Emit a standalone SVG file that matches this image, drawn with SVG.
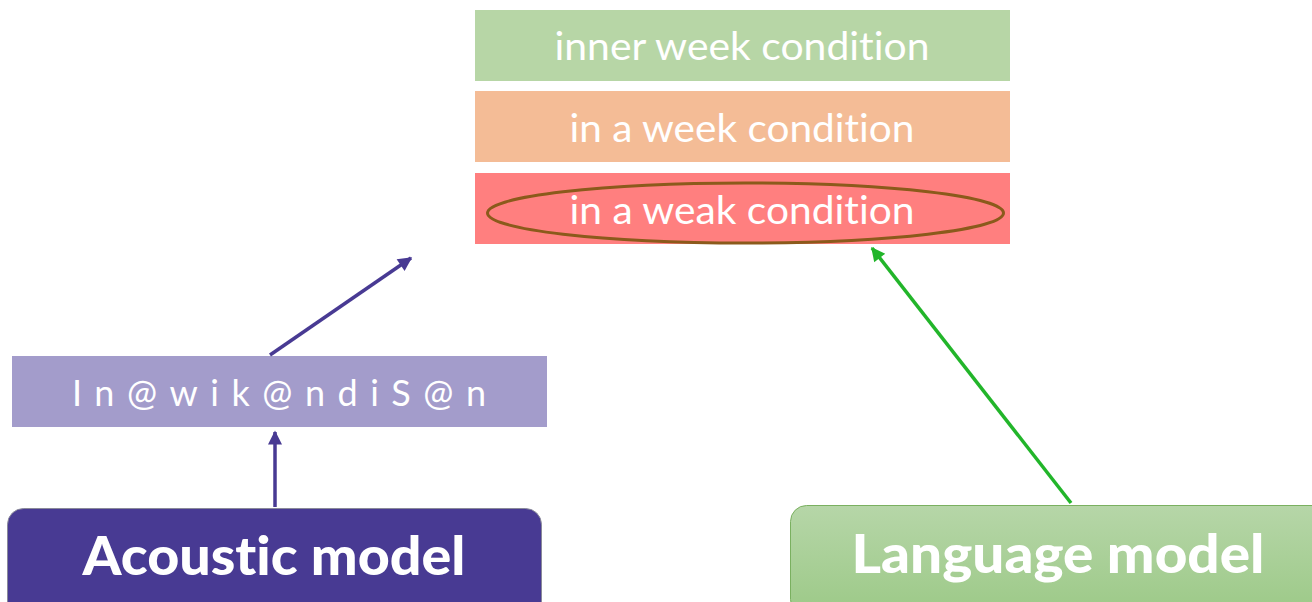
<svg xmlns="http://www.w3.org/2000/svg" width="1312" height="602" viewBox="0 0 1312 602">
  <defs>
    <style>
      .lbl { font-family: Lato, "Open Sans", "Liberation Sans", sans-serif; fill: #ffffff; text-anchor: middle; font-variant-ligatures: none; font-feature-settings: "liga" 0, "clig" 0; }
      .hyp { font-size: 38px; }
      .model { font-size: 54px; font-weight: 900; }
      .phon { font-size: 36px; }
      .edge { fill: none; stroke-width: 3.5; }
    </style>
    <linearGradient id="lmFill" x1="0" y1="0" x2="0" y2="1">
      <stop offset="0" stop-color="#b6d6a8"/>
      <stop offset="1" stop-color="#9cc987"/>
    </linearGradient>
    <marker id="headPurple" viewBox="0 0 10 10" refX="9" refY="5" markerWidth="4.5" markerHeight="4" orient="auto">
      <path d="M0,0 L10,5 L0,10 z" fill="#483a93"/>
    </marker>
    <marker id="headGreen" viewBox="0 0 10 10" refX="9" refY="5" markerWidth="4.5" markerHeight="4" orient="auto">
      <path d="M0,0 L10,5 L0,10 z" fill="#22b52a"/>
    </marker>
  </defs>

  <rect width="1312" height="602" fill="#ffffff"/>

  <!-- candidate transcriptions -->
  <g id="hyp1">
    <rect x="475" y="10" width="535" height="71" fill="#b7d6a6"/>
    <text class="lbl hyp" x="742" y="60" textLength="375" lengthAdjust="spacingAndGlyphs">inner week condition</text>
  </g>
  <g id="hyp2">
    <rect x="475" y="91" width="535" height="71" fill="#f4bc96"/>
    <text class="lbl hyp" x="742" y="142" textLength="345" lengthAdjust="spacingAndGlyphs">in a week condition</text>
  </g>
  <g id="hyp3">
    <rect x="475" y="173" width="535" height="71" fill="#ff7f7f"/>
    <text class="lbl hyp" x="742" y="224" textLength="345" lengthAdjust="spacingAndGlyphs">in a weak condition</text>
    <ellipse cx="745.5" cy="213" rx="258" ry="30" fill="none" stroke="#8b5a1b" stroke-width="3"/>
  </g>

  <!-- phoneme string -->
  <g id="phonemes">
    <rect x="12" y="356" width="535" height="71" fill="#a39ccb"/>
    <text class="lbl phon" x="279" y="406" textLength="414" lengthAdjust="spacing">In@wik@ndiS@n</text>
  </g>

  <!-- models -->
  <g id="acoustic">
    <rect x="7.5" y="508.5" width="534" height="110" rx="16" fill="#483a93" stroke="#8a8a9a" stroke-width="1"/>
    <text class="lbl model" x="274" y="575" textLength="383" lengthAdjust="spacingAndGlyphs">Acoustic model</text>
  </g>
  <g id="language">
    <rect x="790.5" y="505.5" width="540" height="110" rx="16" fill="url(#lmFill)" stroke="#7ab060" stroke-width="1"/>
    <text class="lbl model" x="1058" y="573" textLength="413" lengthAdjust="spacingAndGlyphs">Language model</text>
  </g>

  <!-- connectors -->
  <g id="connectors">
    <line class="edge" x1="275" y1="507" x2="275" y2="432" stroke="#483a93" marker-end="url(#headPurple)"/>
    <line class="edge" x1="270" y1="355" x2="411" y2="258" stroke="#483a93" marker-end="url(#headPurple)"/>
    <line class="edge" x1="1071" y1="503" x2="872" y2="248" stroke="#22b52a" marker-end="url(#headGreen)"/>
  </g>
</svg>
